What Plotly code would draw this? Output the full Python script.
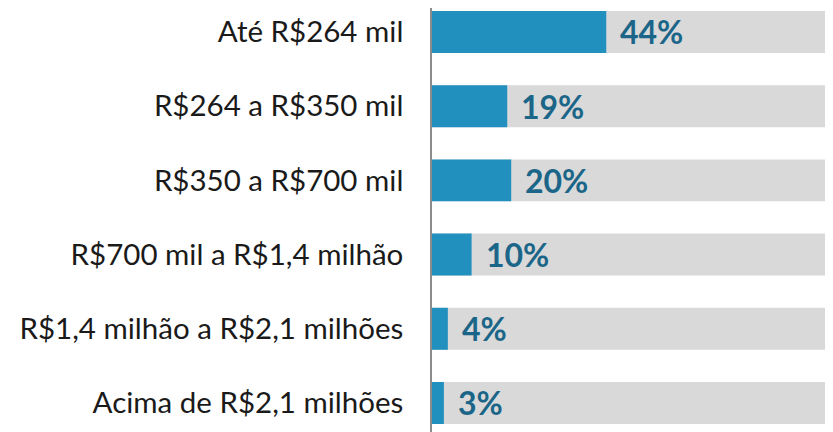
import plotly.graph_objects as go

categories = ["Até R$264 mil", "R$264 a R$350 mil", "R$350 a R$700 mil",
              "R$700 mil a R$1,4 milhão", "R$1,4 milhão a R$2,1 milhões",
              "Acima de R$2,1 milhões"]
values = [44, 19, 20, 10, 4, 3]
total = [100] * len(categories)
labels = [f"{v}%" for v in values]

pos = list(range(len(categories)))

fig = go.Figure()
fig.add_trace(go.Bar(y=pos, x=total, orientation="h", width=0.566,
                     marker=dict(color="#d9d9d9", line=dict(width=0)),
                     hoverinfo="skip", showlegend=False))
fig.add_trace(go.Bar(y=pos, x=values, orientation="h", width=0.566,
                     marker=dict(color="#2190bf", line=dict(width=0)),
                     showlegend=False))

for p, v, t in zip(pos, values, labels):
    fig.add_annotation(x=v, y=p, text=t, showarrow=False, xanchor="left",
                       xshift=12, yshift=0,
                       font=dict(family="Lato", size=32, color="#1b6688", weight="bold"))

fig.update_layout(
    width=825, height=424,
    margin=dict(l=424, r=5, t=0, b=0, autoexpand=False),
    barmode="overlay",
    plot_bgcolor="white", paper_bgcolor="white",
    xaxis=dict(range=[0, 100], showgrid=False, zeroline=False, automargin=False,
               showticklabels=False, fixedrange=True),
    yaxis=dict(range=[5.391, -0.323], tickvals=pos, ticktext=categories,
               showgrid=False, zeroline=False, showline=True, automargin=False,
               linecolor="#8c8c8c", linewidth=1.5, ticks="",
               ticklabelstandoff=21,
               tickfont=dict(family="Lato", size=29.5, color="#1a1a1a")),
)

fig.write_html("out.html")
